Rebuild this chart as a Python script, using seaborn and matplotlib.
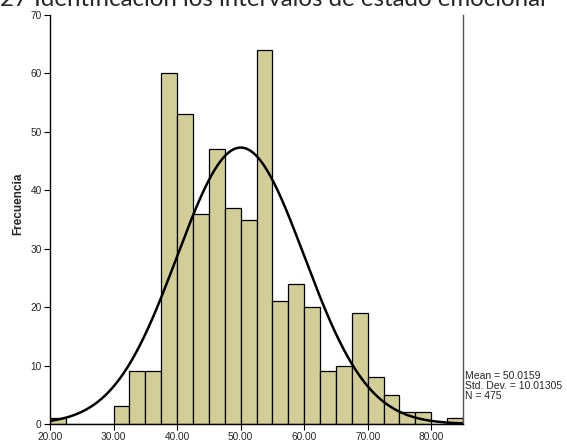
import numpy as np
import pandas as pd
import matplotlib
matplotlib.use("Agg")
import matplotlib.pyplot as plt
import seaborn as sns

# Histogram bins (width 2.5) and observed frequencies
bin_edges = [20.0, 22.5, 25.0, 27.5, 30.0, 32.5, 35.0, 37.5, 40.0, 42.5, 45.0, 47.5,
             50.0, 52.5, 55.0, 57.5, 60.0, 62.5, 65.0, 67.5, 70.0, 72.5, 75.0, 77.5,
             80.0, 82.5, 85.0]
frecuencias = [1, 0, 0, 0, 3, 9, 9, 60, 53, 36, 47, 37, 35, 64, 21, 24, 20, 9,
               10, 19, 8, 5, 2, 2, 0, 1]

# Summary statistics
media = 50.0159
desv_tip = 10.01305
n_casos = 475

x_ticks = [20, 30, 40, 50, 60, 70, 80]
x_tick_labels = ["20.00", "30.00", "40.00", "50.00", "60.00", "70.00", "80.00"]
y_ticks = [0, 10, 20, 30, 40, 50, 60, 70]

titulo = "27 Identificación los intervalos de estado emocional"

sns.set_style("white")
plt.rcParams["font.family"] = ["Liberation Sans", "DejaVu Sans"]

edges = np.array(bin_edges)
centros = (edges[:-1] + edges[1:]) / 2
df = pd.DataFrame({"valor": centros, "frecuencia": frecuencias})

fig = plt.figure(figsize=(5.67, 4.47), dpi=100)
ax = fig.add_axes([50 / 567, 1 - 424 / 447, 413 / 567, 409 / 447])

sns.histplot(data=df, x="valor", weights="frecuencia", bins=bin_edges,
             color="#D3CE98", alpha=1.0, edgecolor="black", linewidth=0.9, ax=ax)

# Fitted normal curve scaled to counts
ancho = edges[1] - edges[0]
xs = np.linspace(edges[0], edges[-1], 400)
ys = n_casos * ancho / (desv_tip * np.sqrt(2 * np.pi)) * np.exp(-0.5 * ((xs - media) / desv_tip) ** 2)
sns.lineplot(x=xs, y=ys, color="black", linewidth=1.8, ax=ax)

ax.set_xlim(20, 85)
ax.set_ylim(0, 70)
ax.set_xticks(x_ticks)
ax.set_xticklabels(x_tick_labels)
ax.set_yticks(y_ticks)
ax.tick_params(axis="both", labelsize=7.3, length=4, width=0.8, color="black",
               direction="out", pad=2, bottom=True, left=True)
ax.set_xlabel("")
ax.set_ylabel("Frecuencia", fontsize=8.5, fontweight="bold")
ax.yaxis.set_label_coords(-0.062, 0.538)

for side in ["left", "bottom"]:
    ax.spines[side].set_color("black")
    ax.spines[side].set_linewidth(1.0)
ax.spines["top"].set_visible(False)
ax.spines["right"].set_visible(True)
ax.spines["right"].set_color("#555555")
ax.spines["right"].set_linewidth(1.0)

fig.text(465 / 567, 1 - 386 / 447,
         f"Mean = {media}\nStd. Dev. = {desv_tip}\nN = {n_casos}",
         fontsize=7.5, ha="left", va="center", linespacing=1.05)

fig.text(273 / 567, 1 - 6 / 447, titulo, fontsize=17.3, ha="center", va="baseline",
         family=["Lato", "DejaVu Sans"])

fig.savefig("out.png", dpi=100)
